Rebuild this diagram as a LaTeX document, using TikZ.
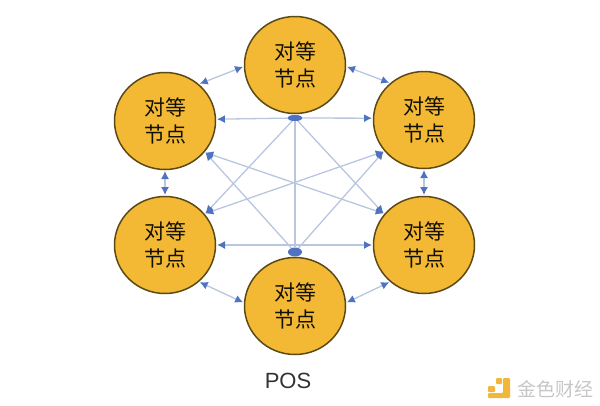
\documentclass[tikz,border=0pt]{standalone}
\usepackage{fontspec}
\setmainfont{Liberation Sans}
\newfontfamily\cjk{Noto Sans CJK SC}
\usetikzlibrary{shapes.geometric,arrows.meta}
\definecolor{peerfill}{HTML}{F4B934}
\definecolor{peerline}{HTML}{5C4A16}
\definecolor{linkline}{HTML}{B9C6E0}
\definecolor{linktip}{HTML}{4F73C0}
\definecolor{logoor}{HTML}{F0B73A}
\tikzset{
  peer/.style={ellipse,draw=peerline,line width=1.5pt,fill=peerfill,minimum width=101pt,minimum height=97pt,inner sep=0pt,outer sep=1.5pt,
    font=\cjk\fontsize{21}{27}\selectfont,text=black!80!peerline,align=center},
  hub/.style={ellipse,fill=linktip,draw=none,minimum width=14pt,minimum height=6pt,inner sep=0pt},
  link/.style={draw=linkline,line width=1.3pt,-{Latex[length=8pt,width=8pt,color=linktip]}},
  dlink/.style={draw=linkline,line width=1.3pt,{Latex[length=8pt,width=8pt,color=linktip]}-{Latex[length=8pt,width=8pt,color=linktip]}},
  plain/.style={draw=linkline,line width=1.3pt}
}
\begin{document}
\begin{tikzpicture}[x=1pt,y=-1pt]
\useasboundingbox (0,0) rectangle (600,405);
\fill[white] (0,0) rectangle (600,405);
% hubs under the circles
\node[hub] (ht) at (295,118) {};
\node[hub,minimum height=9pt] (hb) at (295,252) {};
\node[peer] (t) at (295,65) {对等\\节点};
\node[peer] (ul) at (165,121) {对等\\节点};
\node[peer] (ur) at (424,120) {对等\\节点};
\node[peer] (ll) at (165,245) {对等\\节点};
\node[peer] (lr) at (424,245) {对等\\节点};
\node[peer] (b) at (295,306) {对等\\节点};
\coordinate (bj) at (295,245);
% neighbours
\draw[dlink] (t.-2) -- (ur.133);
\draw[dlink] (t.182) -- (ul.47);
\draw[dlink] (ul.-90) -- (ll.90);
\draw[dlink] (ur.-90) -- (lr.90);
\draw[dlink] (ll.-47) -- (b.176);
\draw[dlink] (lr.-133) -- (b.4);
% from the upper hub
\draw[link] (ht) -- (ul.2);
\draw[link] (ht) -- (ur.178);
\draw[link] (ht) -- (ll.38);
\draw[link] (ht) -- (lr.142);
\draw[plain] (ht) -- (hb);
% from the lower hub
\draw[link] (bj) -- (ll.0);
\draw[link] (bj) -- (lr.180);
\draw[link] (hb) -- (ul.-38);
\draw[link] (hb) -- (ur.-142);
% long diagonals
\draw[dlink] (ul.-38) -- (lr.142);
\draw[dlink] (ur.-142) -- (ll.38);
\node[hub] at (ht) {};
\node[font=\fontsize{22}{26}\selectfont,text=black!80] (pos) at (288,381) {POS};
% watermark
\fill[logoor,rounded corners=1pt] (503,378) -- (510,378) -- (510,398) -- (488,398) -- (488,393) -- (503,393) -- cycle;
\fill[logoor,rounded corners=1pt] (496,378) rectangle (502,384);
\fill[logoor,rounded corners=1pt] (488,386) rectangle (495,392);
\node[font=\cjk\fontsize{19}{19}\selectfont,text=black!22,inner sep=0pt] (wm) at (555,389) {金色财经};
\end{tikzpicture}
\end{document}
